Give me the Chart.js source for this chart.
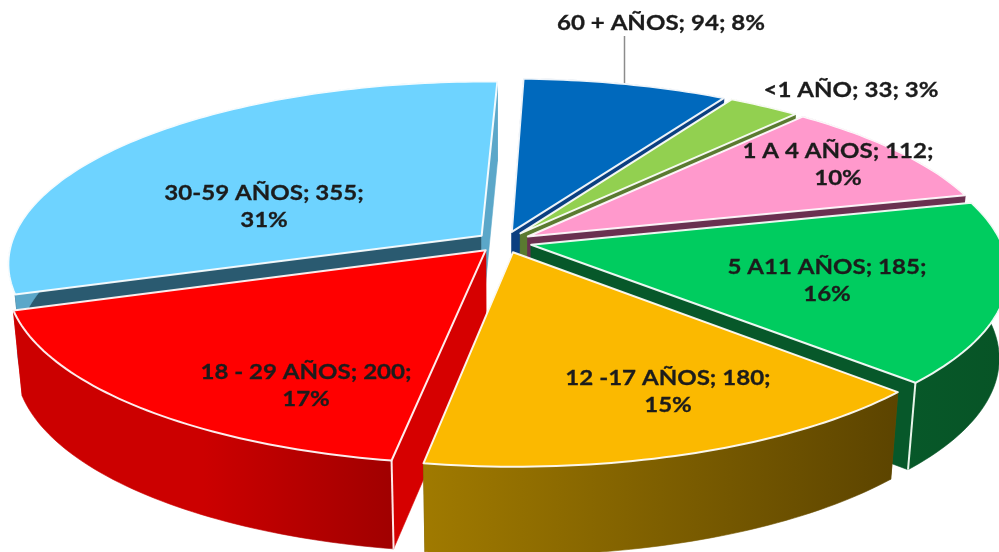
<!DOCTYPE html>
<html><head><meta charset="utf-8">
<style>html,body{margin:0;padding:0;background:#fff;overflow:hidden}canvas{display:block;filter:blur(0.5px)}</style>
<script src="https://cdn.jsdelivr.net/npm/chart.js@4"></script>
</head><body>
<canvas id="c" width="999" height="552"></canvas>
<script>
const categories = ["60 + AÑOS","<1 AÑO","1 A 4 AÑOS","5 A11 AÑOS","12 -17 AÑOS","18 - 29 AÑOS","30-59 AÑOS"];
const values = [94,33,112,185,180,200,355];
const percents = ["8%","3%","10%","16%","15%","17%","31%"];
const topColors = ["#0069bd","#92d050","#ff99cc","#00cc5f","#fbb900","#ff0000","#6ed3ff"];
const startFaceColors = ["#0b3f80","#5a7a30","#6a3050","#07582a","#6a5000","#d60000","#2a5a70"];
const endFaceColors = ["#0b3f80","#5a7a30","#6a3050","#07582a","#6a5000","#d60000","#5ba7c9"];
const wallStops = [
  ["#0b3f80","#0b3f80"],["#5a7a30","#5a7a30"],["#6a3050","#6a3050"],
  ["#075829","#075426"],["#a07a00","#5c4400"],["#cc0000","#cc0000","#a00000"],["#5ba7c9","#5ba7c9"]
];
const paintOrder = [0,1,2,6,3,5,4];
const labelLayout = [[661,23],[851,90],[838,151],[827,267],[668,378],[306,372],[264,193]];
const labelLines = [
  ["60 + AÑOS; 94; 8%"],["<1 AÑO; 33; 3%"],["1 A 4 AÑOS; 112;","10%"],["5 A11 AÑOS; 185;","16%"],
  ["12 -17 AÑOS; 180;","15%"],["18 - 29 AÑOS; 200;","17%"],["30-59 AÑOS; 355;","31%"]
];
const cx=504, cy=242, Rx=470, Ry=179, persp=0.15, depth=84, depthGrow=0.05, shrink=0.018, explode=28;

function project(u,v,z){
  const s=1/(1-persp*v), t=1-shrink*z;
  return [cx+u*Rx*s*t, cy+v*Ry*s+depth*(1+depthGrow*v)*z];
}
function arcPts(a0,a1,du,dv,z){
  const n=Math.max(4,Math.ceil((a1-a0)/0.02)), pts=[];
  for(let i=0;i<=n;i++){const a=a0+(a1-a0)*i/n;pts.push(project(Math.cos(a)+du,Math.sin(a)+dv,z));}
  return pts;
}
function poly(ctx,pts,fill,stroke,lw){
  ctx.beginPath();pts.forEach((p,i)=>i?ctx.lineTo(p[0],p[1]):ctx.moveTo(p[0],p[1]));ctx.closePath();
  ctx.fillStyle=fill;ctx.fill();
  if(stroke){ctx.strokeStyle=stroke;ctx.lineWidth=lw;ctx.lineJoin='round';ctx.stroke();}
  else{ctx.strokeStyle=fill;ctx.lineWidth=0.6;ctx.stroke();}
}
function line(ctx,a,b,c,w){ctx.beginPath();ctx.moveTo(a[0],a[1]);ctx.lineTo(b[0],b[1]);ctx.strokeStyle=c;ctx.lineWidth=w;ctx.stroke();}

const pie3d={
  id:'pie3d',
  beforeDatasetDraw(chart){
    const ctx=chart.ctx, arcs=chart.getDatasetMeta(0).data;
    ctx.save();
    for(const i of paintOrder){
      const el=arcs[i], a0=el.startAngle, a1=el.endAngle, m=(a0+a1)/2;
      const off=el.options.offset/Rx, du=Math.cos(m)*off, dv=Math.sin(m)*off;
      const apexT=project(du,dv,0), apexB=project(du,dv,1);
      const top=arcPts(a0,a1,du,dv,0), bot=arcPts(a0,a1,du,dv,1);
      const s0=top[0], s1=top[top.length-1], b0=bot[0], b1=bot[bot.length-1];
      poly(ctx,[apexT,s0,b0,apexB],startFaceColors[i]);
      poly(ctx,[apexT,s1,b1,apexB],endFaceColors[i]);
      const xs=top.concat(bot).map(p=>p[0]);
      const g=ctx.createLinearGradient(Math.min(...xs),0,Math.max(...xs),0);
      wallStops[i].forEach((c,k,arr)=>g.addColorStop(k/(arr.length-1),c));
      poly(ctx,top.concat(bot.slice().reverse()),g);
      if(i===3){line(ctx,s1,b1,'#e8f5ea',2);}
      if(i===5){line(ctx,s0,b0,'#ffe8e8',2);}
      poly(ctx,[apexT,...top],topColors[i],'rgba(255,255,255,0.92)',2);
    }
    ctx.restore();
    return false;
  },
  afterDatasetsDraw(chart){
    const ctx=chart.ctx;
    ctx.save();
    line(ctx,[624.5,36],[624.5,83],'#8c8c8c',1.5);
    ctx.font='bold 21.5px Lato, "Open Sans", sans-serif';
    ctx.textAlign='center';ctx.textBaseline='middle';
    ctx.fillStyle='#1c1c1c';ctx.strokeStyle='#1c1c1c';ctx.lineWidth=0.3;
    labelLines.forEach((lines,i)=>{
      const [x,y]=labelLayout[i];
      lines.forEach((t,k)=>{
        ctx.save();ctx.translate(x,y+k*27.5);ctx.scale(1.12,1);
        ctx.fillText(t,0,0);ctx.strokeText(t,0,0);ctx.restore();
      });
    });
    ctx.restore();
  }
};

new Chart(document.getElementById('c'),{
  type:'pie',
  data:{labels:categories,datasets:[{data:values,backgroundColor:topColors,offset:explode,borderWidth:0}]},
  options:{
    responsive:false,animation:false,rotation:1.8,
    plugins:{legend:{display:false},tooltip:{enabled:false},title:{display:false}}
  },
  plugins:[pie3d]
});
</script>
</body></html>
